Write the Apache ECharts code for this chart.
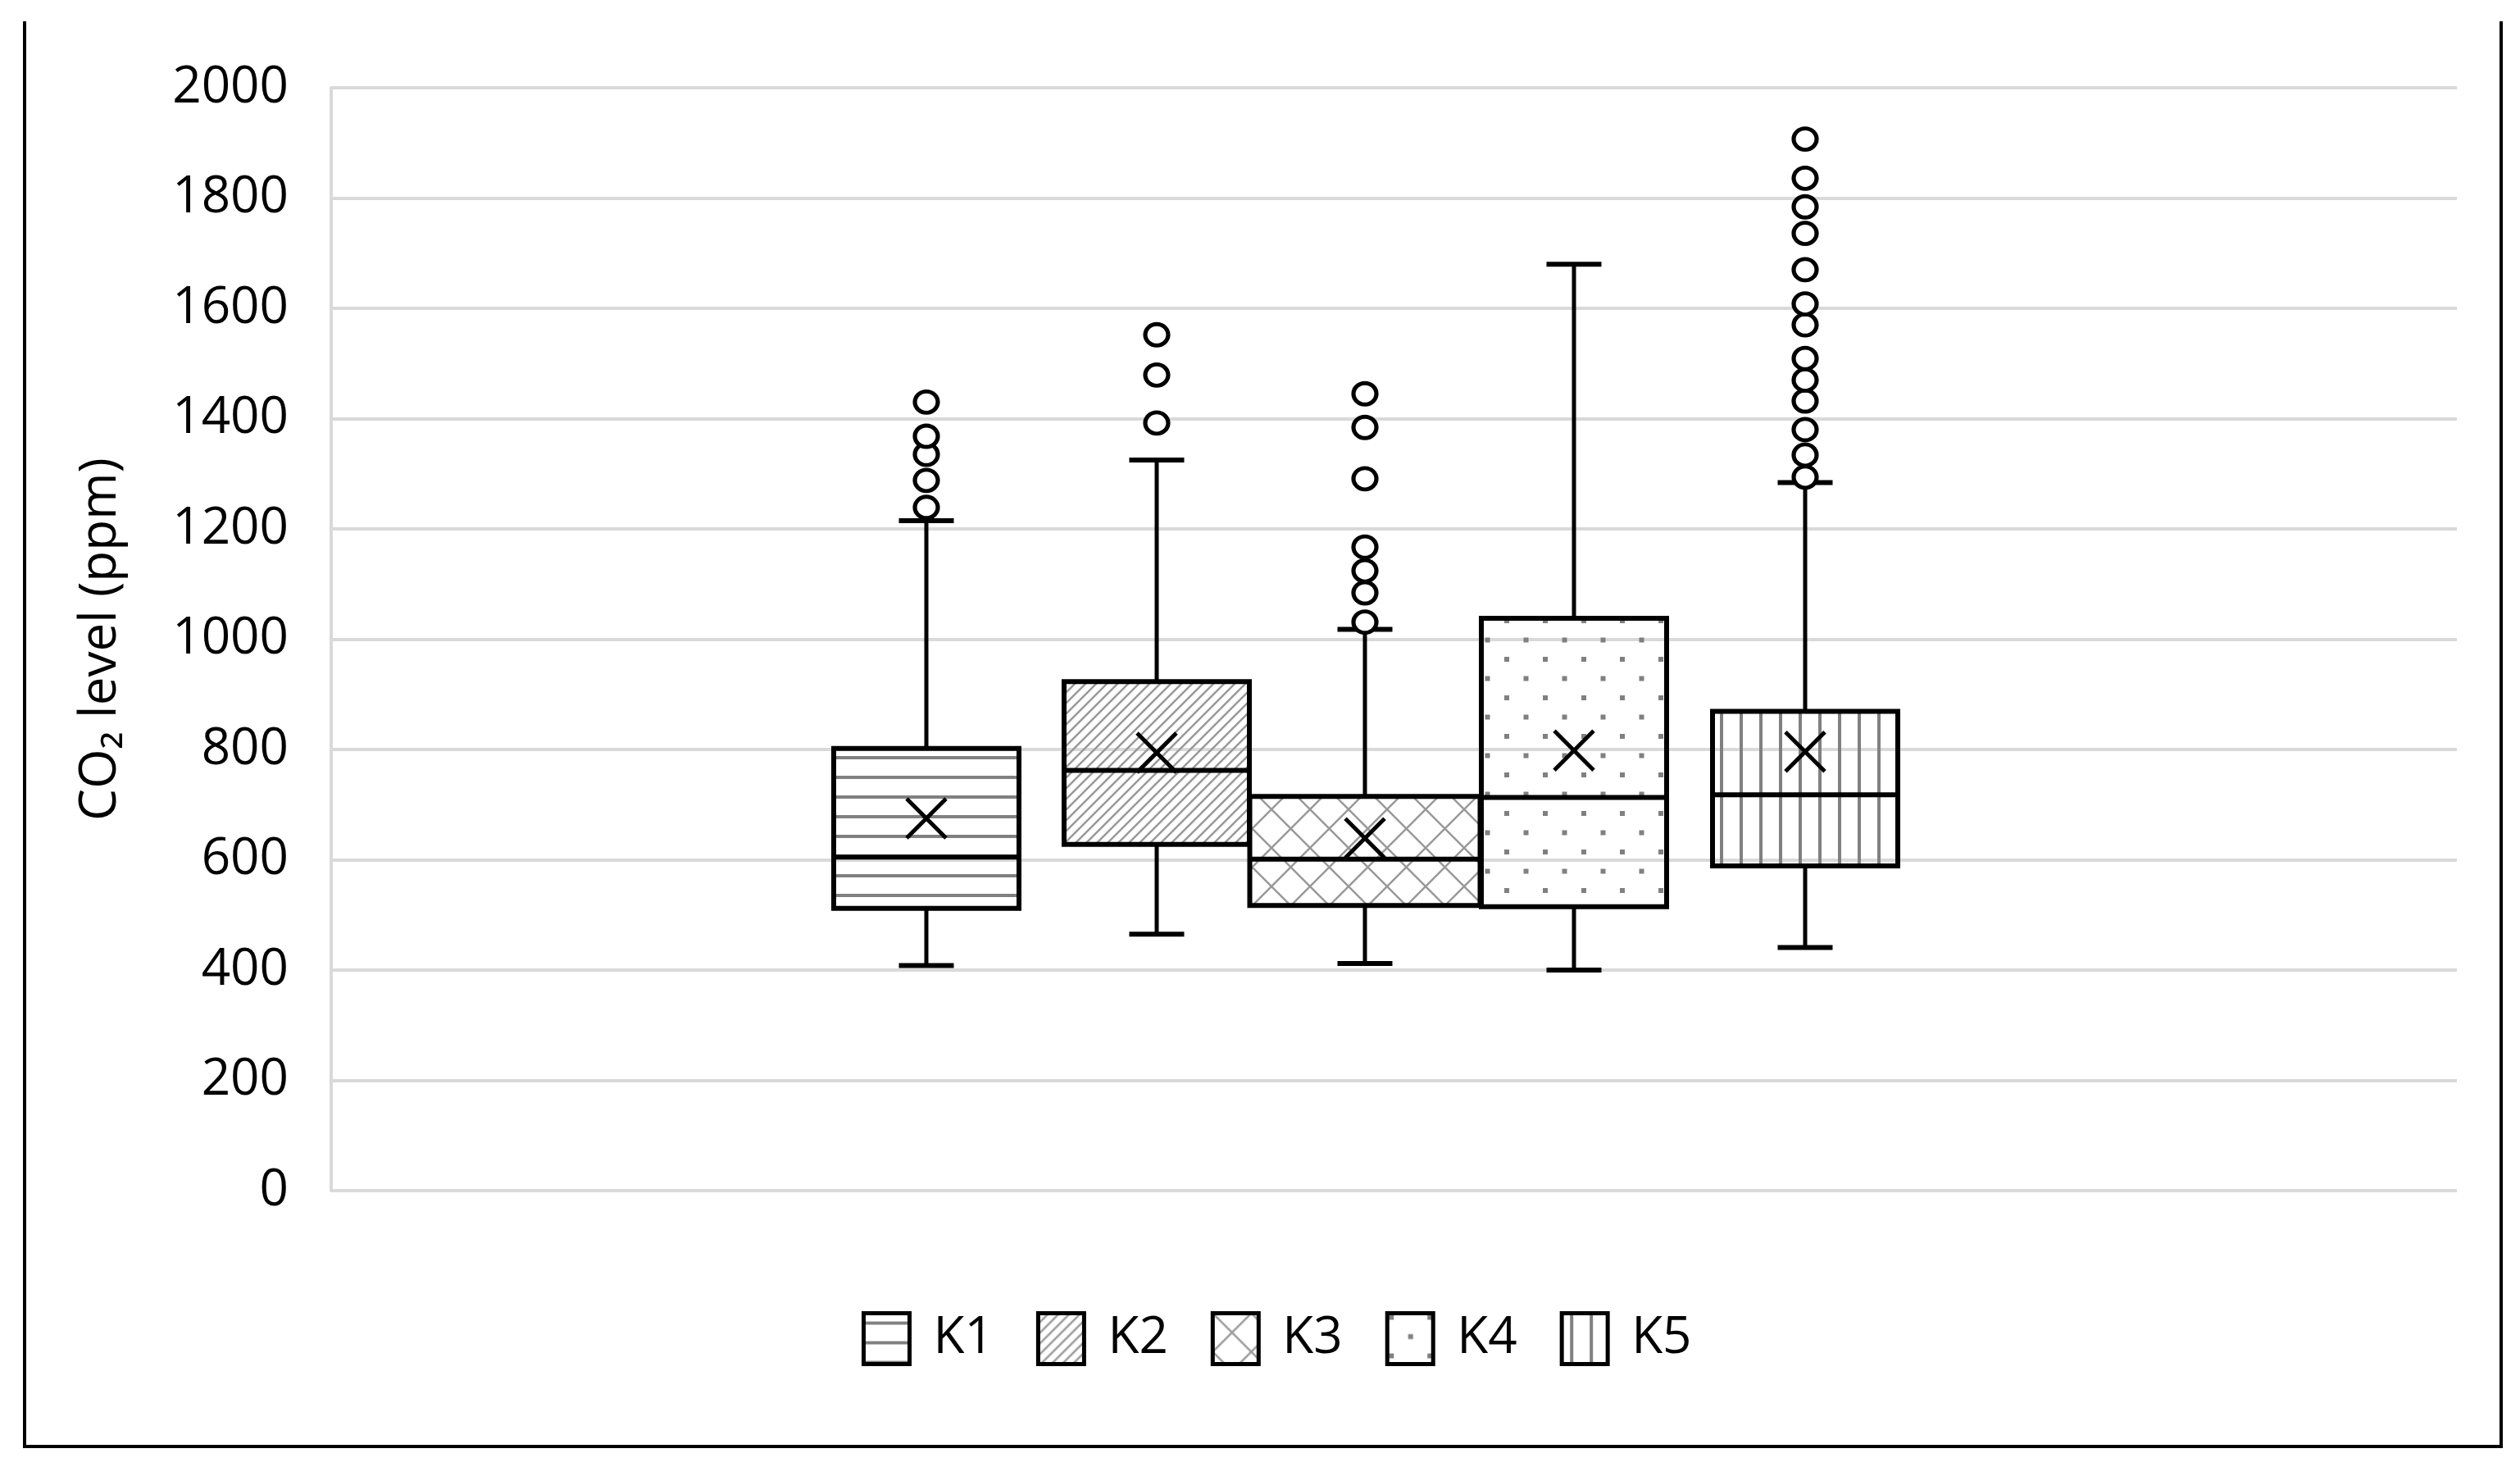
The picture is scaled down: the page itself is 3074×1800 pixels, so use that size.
<!DOCTYPE html>
<html>
<head>
    <meta charset="utf-8">
    <title>CO2 box plot</title>
    <script src="https://cdn.jsdelivr.net/npm/echarts@6/dist/echarts.min.js"></script>
    <style>
        html, body { margin: 0; padding: 0; background: #fff; }
    </style>
</head>
<body>
<div id="main" style="width: 3074px;height:1800px;"></div>
<script type="text/javascript">
    // values (ppm)
    var groups = ['K1', 'K2', 'K3', 'K4', 'K5'];
    var whiskerLow = [408, 465, 412, 400, 441];
    var q1 = [512, 628, 517, 515, 589];
    var median = [605, 762, 601, 713, 718];
    var q3 = [802, 923, 715, 1038, 869];
    var whiskerHigh = [1215, 1325, 1018, 1680, 1284];
    var mean = [675, 794, 639, 798, 796];
    var outliers = [
        [1239, 1288, 1335, 1368, 1430],
        [1392, 1479, 1552],
        [1031, 1084, 1124, 1167, 1291, 1384, 1445],
        [],
        [1294, 1334, 1380, 1432, 1470, 1509, 1570, 1608, 1670, 1736, 1784, 1836, 1907]
    ];
    var yTicks = { min: 0, max: 2000, interval: 200 };

    // layout (px)
    var boxCenter = [1130, 1411, 1665, 1920, 2202];
    var boxWidth = [226, 226, 281, 226, 226];
    var slotWidth = 300;
    var capWidth = 67;
    var meanSize = 48;
    var plotTop = 107, plotBottom = 348;
    var FONT = 'Open Sans';

    // fill patterns like the excel ones
    function makePattern(kind) {
        var c = document.createElement('canvas');
        var g = c.getContext('2d');
        var grey = '#808080';
        if (kind === 0) {          // horizontal lines
            c.width = 24; c.height = 24;
            g.fillStyle = grey; g.fillRect(0, 10, 24, 4);
        } else if (kind === 1) {   // diagonal lines
            c.width = 13; c.height = 13;
            g.strokeStyle = '#999'; g.lineWidth = 2.5;
            g.beginPath();
            g.moveTo(-2, 15); g.lineTo(15, -2);
            g.moveTo(-8, 8); g.lineTo(8, -8);
            g.moveTo(5, 21); g.lineTo(21, 5);
            g.stroke();
        } else if (kind === 2) {   // diamond cross hatch
            c.width = 47; c.height = 47;
            g.strokeStyle = '#999'; g.lineWidth = 2.5;
            g.beginPath();
            g.moveTo(0, 0); g.lineTo(47, 47);
            g.moveTo(47, 0); g.lineTo(0, 47);
            g.stroke();
        } else if (kind === 3) {   // staggered dots
            c.width = 47; c.height = 47;
            g.fillStyle = grey;
            g.fillRect(2, 2, 6, 6);
            g.fillRect(25.5, 25.5, 6, 6);
        } else {                   // vertical lines
            c.width = 24; c.height = 24;
            g.fillStyle = grey; g.fillRect(10, 0, 4, 24);
        }
        return { image: c, repeat: 'repeat' };
    }
    var patterns = groups.map(function (n, i) { return makePattern(i); });

    function boxRenderer(k) {
        return function (params, api) {
            var cat = api.value(0);
            var x = api.coord([cat, 0])[0];
            var yOf = function (dim) { return api.coord([cat, api.value(dim)])[1]; };
            var lo = yOf(1), b1 = yOf(2), med = yOf(3), b3 = yOf(4), hi = yOf(5), mn = yOf(6);
            var hw = boxWidth[k] / 2, cw = capWidth / 2, m = meanSize / 2;
            function line(x1, y1, x2, y2, w) {
                return {
                    type: 'line',
                    shape: { x1: x1, y1: y1, x2: x2, y2: y2 },
                    style: { stroke: '#000', lineWidth: w || 5 }
                };
            }
            return {
                type: 'group',
                children: [
                    line(x, hi, x, b3), line(x, b1, x, lo),
                    line(x - cw, hi, x + cw, hi, 6), line(x - cw, lo, x + cw, lo, 6),
                    {
                        type: 'rect',
                        shape: { x: x - hw, y: b3, width: hw * 2, height: b1 - b3 },
                        style: { fill: patterns[k], stroke: '#000', lineWidth: 6 }
                    },
                    line(x - hw, med, x + hw, med, 6),
                    line(x - m, mn - m, x + m, mn + m), line(x - m, mn + m, x + m, mn - m)
                ]
            };
        };
    }

    var grids = [{ left: 404, right: 77, top: plotTop, bottom: plotBottom }];
    var xAxes = [{ type: 'category', gridIndex: 0, data: [''], show: false }];
    var yAxes = [{
        type: 'value', gridIndex: 0,
        min: yTicks.min, max: yTicks.max, interval: yTicks.interval,
        name: 'CO\u2082 level (ppm)',
        nameLocation: 'middle',
        nameGap: 250,
        nameTextStyle: { fontFamily: FONT, fontSize: 62, color: '#000' },
        axisLine: { show: true, lineStyle: { color: '#d9d9d9', width: 4 } },
        axisTick: { show: false },
        axisLabel: {
            fontFamily: FONT, fontSize: 62, color: '#000', margin: 52,
            formatter: function (v) { return String(v); }
        },
        splitLine: { lineStyle: { color: '#d9d9d9', width: 4 } }
    }];
    var series = [];

    groups.forEach(function (name, k) {
        grids.push({
            left: boxCenter[k] - slotWidth / 2, width: slotWidth,
            top: plotTop, bottom: plotBottom
        });
        xAxes.push({ type: 'category', gridIndex: k + 1, data: [name], show: false });
        yAxes.push({
            type: 'value', gridIndex: k + 1,
            min: yTicks.min, max: yTicks.max, show: false
        });
        series.push({
            name: name,
            type: 'custom',
            xAxisIndex: k + 1,
            yAxisIndex: k + 1,
            itemStyle: { color: patterns[k], borderColor: '#000' },
            renderItem: boxRenderer(k),
            encode: { x: 0, y: [1, 2, 3, 4, 5, 6] },
            data: [[name, whiskerLow[k], q1[k], median[k], q3[k], whiskerHigh[k], mean[k]]],
            z: 3
        });
        series.push({
            name: name + ' outliers',
            type: 'scatter',
            xAxisIndex: k + 1,
            yAxisIndex: k + 1,
            symbol: 'circle',
            symbolSize: [28, 26],
            itemStyle: { color: '#fff', borderColor: '#000', borderWidth: 5, opacity: 1 },
            data: outliers[k].map(function (v) { return [name, v]; }),
            z: 4
        });
    });

    var myChart = echarts.init(document.getElementById('main'));
    myChart.setOption({
        animation: false,
        backgroundColor: '#fff',
        grid: grids,
        xAxis: xAxes,
        yAxis: yAxes,
        legend: {
            data: groups,
            left: 1046,
            top: 1594,
            icon: 'rect',
            itemWidth: 56,
            itemHeight: 62,
            itemGap: 52,
            itemStyle: { borderColor: '#000', borderWidth: 5 },
            textStyle: { fontFamily: FONT, fontSize: 62, color: '#000', padding: [0, 0, 0, 24] }
        },
        graphic: [{
            type: 'polyline',
            shape: { points: [[30, 26], [30, 1764], [3051, 1764], [3051, 26]] },
            style: { stroke: '#000', lineWidth: 4, fill: null },
            silent: true
        }],
        series: series
    });
</script>
</body>
</html>
